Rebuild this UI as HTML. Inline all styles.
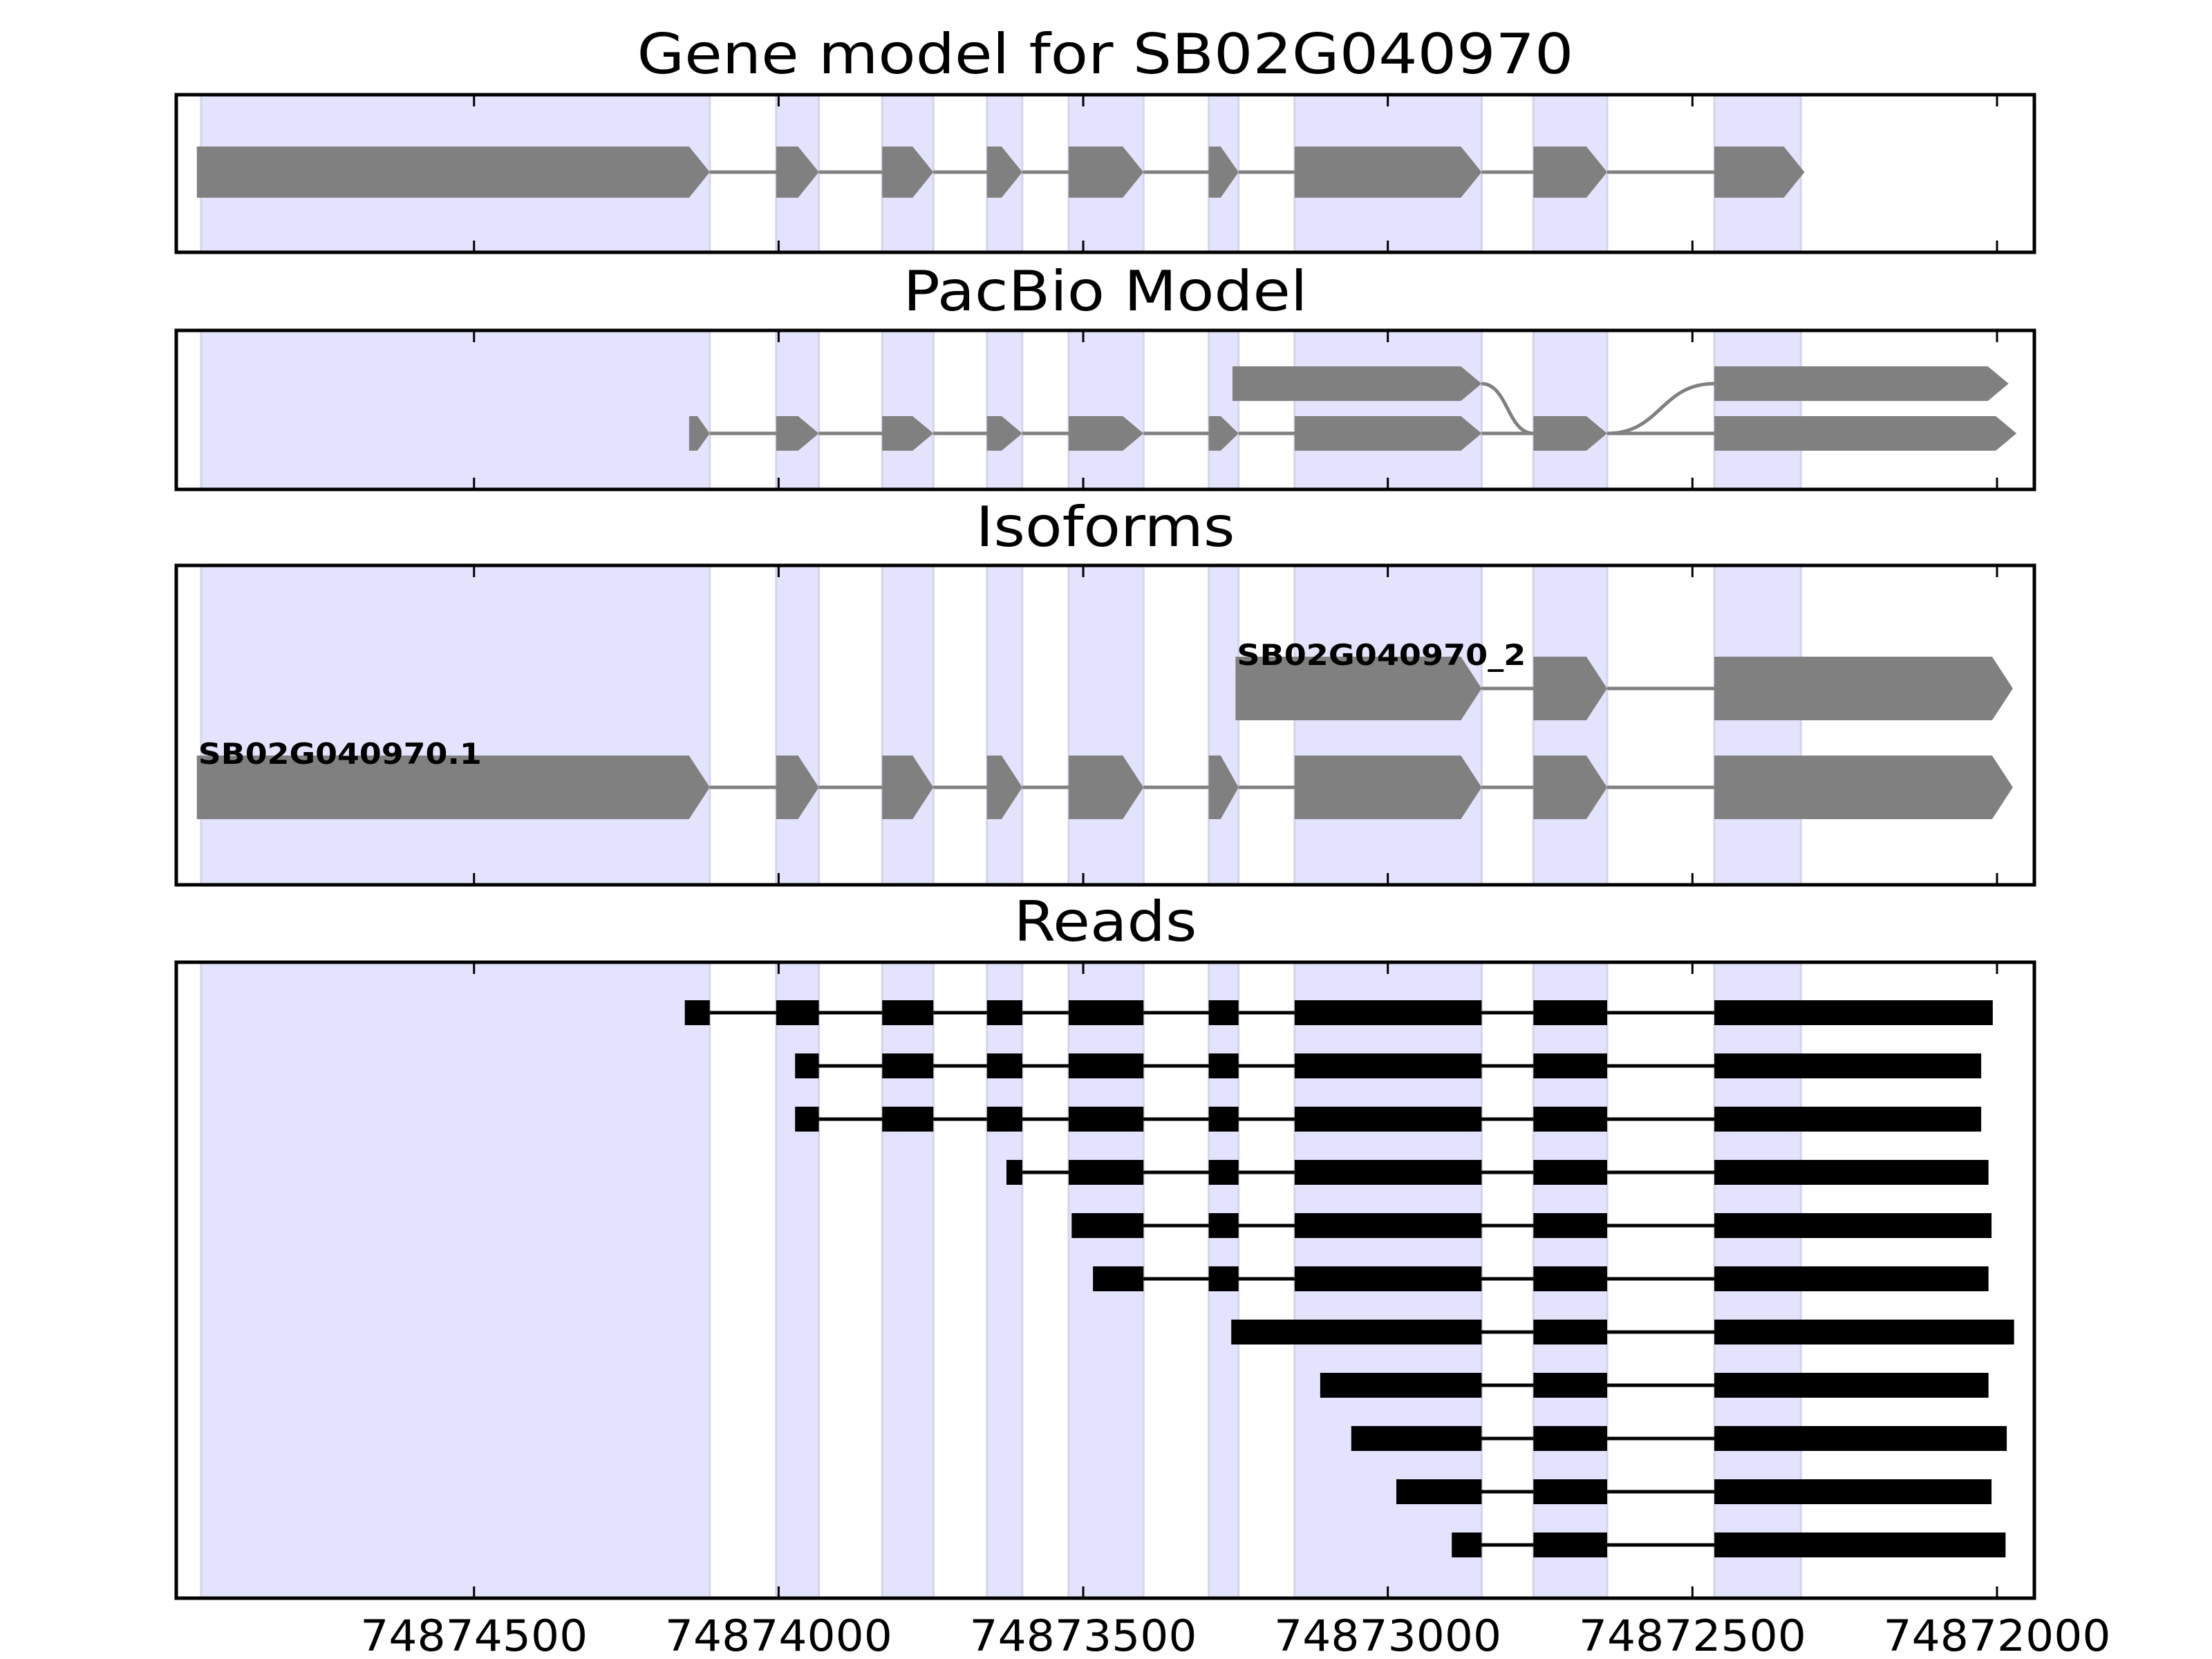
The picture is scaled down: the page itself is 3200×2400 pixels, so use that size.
<!DOCTYPE html>
<html><head><meta charset="utf-8"><style>
html,body{margin:0;padding:0;background:#fff;}
svg{display:block;font-family:"DejaVu Sans","Liberation Sans",sans-serif;}
</style></head><body>
<svg id="chart" width="3200" height="2400" viewBox="0 0 3200 2400" xmlns="http://www.w3.org/2000/svg"></svg>
<script>
// ---- data ----
const tickValues = [74874500, 74874000, 74873500, 74873000, 74872500, 74872000];
const tickLabels = ["74874500", "74874000", "74873500", "74873000", "74872500", "74872000"];
const shadedExons = [[74874948,74874113],[74874004,74873934],[74873830,74873746],[74873658,74873600],[74873524,74873401],[74873294,74873245],[74873153,74872846],[74872761,74872640],[74872464,74872322]];
const geneModelExons = [[74874955,74874113],[74874004,74873934],[74873830,74873746],[74873658,74873600],[74873524,74873401],[74873294,74873245],[74873153,74872846],[74872761,74872640],[74872464,74872316]];
const pacbioTopExons = [[74873255,74872846],[74872464,74871981]];
const pacbioBottomExons = [[74874147,74874113],[74874004,74873934],[74873830,74873746],[74873658,74873600],[74873524,74873401],[74873294,74873245],[74873153,74872846],[74872761,74872640],[74872464,74871968]];
const isoform2Exons = [[74873250,74872846],[74872761,74872640],[74872464,74871974]];
const isoform1Exons = [[74874955,74874113],[74874004,74873934],[74873830,74873746],[74873658,74873600],[74873524,74873401],[74873294,74873245],[74873153,74872846],[74872761,74872640],[74872464,74871974]];
const isoformNames = ["SB02G040970_2","SB02G040970.1"];
const readStarts = [74874154,74873973,74873973,74873626,74873519,74873484,74873257,74873111,74873060,74872986,74872895];
const readEnds = [74872007,74872026,74872026,74872014,74872009,74872014,74871972,74872014,74871984,74872009,74871986];
const readJunctions = [[74874113,74874004],[74873934,74873830],[74873746,74873658],[74873600,74873524],[74873401,74873294],[74873245,74873153],[74872846,74872761],[74872640,74872464]];

// ---- axis ----
const X0 = 255, X1 = 2943;
const refV = 74872000, refX = 2889, pxPerUnit = 0.8813;
function xs(v){ return refX + (refV - v) * pxPerUnit; }

const NS = "http://www.w3.org/2000/svg";
const svg = document.getElementById("chart");
function mk(tag, attrs, parent){ const e = document.createElementNS(NS, tag); for (const k in attrs) e.setAttribute(k, attrs[k]); (parent||svg).appendChild(e); return e; }

const panels = [
  {name:"gene-model-panel", title:"Gene model for SB02G040970", top:137, bot:365, tb:106, tw:1355},
  {name:"pacbio-panel", title:"PacBio Model", top:478, bot:708, tb:449, tw:585},
  {name:"isoforms-panel", title:"Isoforms", top:818, bot:1280, tb:790, tw:375},
  {name:"reads-panel", title:"Reads", top:1392, bot:2312, tb:1361, tw:265}
];
const gp = [];
panels.forEach(function(p){
  const g = mk("g", {});
  
  
  gp.push(g);
  shadedExons.forEach(function(e){
    const r = mk("rect", {x:xs(e[0]), y:p.top, width:xs(e[1])-xs(e[0]), height:p.bot-p.top, fill:"#e3e3fd", stroke:"#d4d4ec", "stroke-width":3}, g);
    
    
  });
  const t = mk("text", {x:(X0+X1)/2, y:p.tb, "text-anchor":"middle", "font-size":80, textLength:p.tw, lengthAdjust:"spacingAndGlyphs"}, g);
  t.textContent = p.title;
  
  
});

function arrowExon(g, s, e, cy, h, tip){
  const x0 = xs(s), x1 = xs(e);
  const tl = Math.min(tip, (x1-x0)*0.6);
  const p = mk("polygon", {points:[x0,cy-h, x1-tl,cy-h, x1,cy, x1-tl,cy+h, x0,cy+h].join(" "), fill:"#808080"}, g);
  
  
}
function drawModel(g, exons, cy, h, tip){
  for (let i=0;i<exons.length-1;i++){
    const l = mk("line", {x1:xs(exons[i][1]), x2:xs(exons[i+1][0]), y1:cy, y2:cy, stroke:"#808080", "stroke-width":5}, g);
    
    
  }
  exons.forEach(function(e){ arrowExon(g, e[0], e[1], cy, h, tip); });
}
// panel 1
drawModel(gp[0], geneModelExons, 249, 37, 30);
// panel 2
drawModel(gp[1], pacbioBottomExons, 627, 25, 30);
drawModel(gp[1], [pacbioTopExons[0]], 555, 25, 30);
drawModel(gp[1], [pacbioTopExons[1]], 555, 25, 30);
(function(){
  const a = xs(pacbioTopExons[0][1]), b = xs(pacbioBottomExons[7][0]);
  const c = xs(pacbioBottomExons[7][1]), d = xs(pacbioTopExons[1][0]);
  const m = (a+b)/2, n = (c+d)/2;
  const p1 = mk("path", {d:`M${a},555 C${m},555 ${m},627 ${b},627`, fill:"none", stroke:"#808080", "stroke-width":5}, gp[1]);
  
  
  const p2 = mk("path", {d:`M${c},627 C${n},627 ${n},555 ${d},555`, fill:"none", stroke:"#808080", "stroke-width":5}, gp[1]);
  
  
})();
// panel 3
drawModel(gp[2], isoform2Exons, 996, 46, 30);
drawModel(gp[2], isoform1Exons, 1139, 46, 30);
[[isoform2Exons[0][0], 962],[isoform1Exons[0][0], 1105]].forEach(function(q, i){
  const t = mk("text", {x:xs(q[0])+2, y:q[1], "font-size":42, "font-weight":"bold", textLength:i==0?418:410, lengthAdjust:"spacingAndGlyphs"}, gp[2]);
  t.textContent = isoformNames[i];
  
  
});
// panel 4 reads
readStarts.forEach(function(st, i){
  const en = readEnds[i];
  const cy = 1465 + i*77;
  const blocks = [];
  let cur = st;
  readJunctions.forEach(function(j){
    if (j[0] < cur - 20 && j[0] > en) { blocks.push([cur, j[0]]); cur = j[1]; }
  });
  blocks.push([cur, en]);
  const g = mk("g", {}, gp[3]);
  
  
  for (let k=0;k<blocks.length-1;k++){
    mk("line", {x1:xs(blocks[k][1]), x2:xs(blocks[k+1][0]), y1:cy, y2:cy, stroke:"#000", "stroke-width":5}, g);
  }
  blocks.forEach(function(b){
    const r = mk("rect", {x:xs(b[0]), y:cy-18, width:xs(b[1])-xs(b[0]), height:36, fill:"#000"}, g);
    
    
  });
});
// frames & ticks
panels.forEach(function(p, i){
  tickValues.forEach(function(v){
    mk("line", {x1:xs(v), x2:xs(v), y1:p.top, y2:p.top+17, stroke:"#000", "stroke-width":3}, gp[i]);
    mk("line", {x1:xs(v), x2:xs(v), y1:p.bot-17, y2:p.bot, stroke:"#000", "stroke-width":3}, gp[i]);
  });
  const f = mk("rect", {x:X0, y:p.top, width:X1-X0, height:p.bot-p.top, fill:"none", stroke:"#000", "stroke-width":5}, gp[i]);
  
  
});
tickValues.forEach(function(v, i){
  const t = mk("text", {x:xs(v), y:2388, "text-anchor":"middle", "font-size":62, textLength:329, lengthAdjust:"spacingAndGlyphs"});
  t.textContent = tickLabels[i];
  
  
});
</script>
</body></html>
